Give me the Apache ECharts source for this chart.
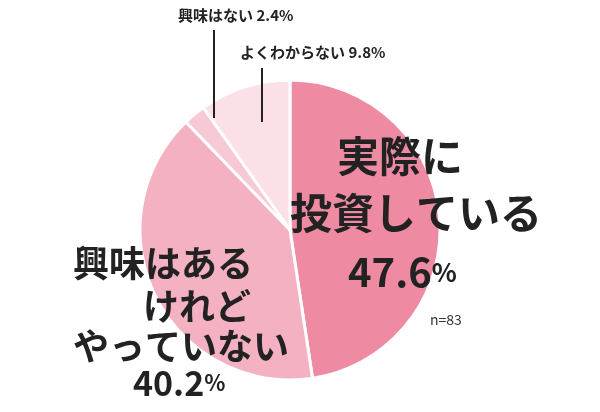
<!DOCTYPE html>
<html>
<head>
<meta charset="utf-8">
<script src="https://cdn.jsdelivr.net/npm/echarts@6/dist/echarts.min.js"></script>
<style>html,body{margin:0;background:#fff}#chart{width:600px;height:412px}</style>
</head>
<body>
<div id="chart"></div>
<script>
const names = ['実際に投資している', '興味はあるけれどやっていない', '興味はない', 'よくわからない'];
const values = [47.6, 40.2, 2.4, 9.8];
const colors = ['#ee8aa2', '#f3b1c1', '#f7c9d4', '#fbe1e7'];
const sampleLabel = 'n=83';

let chart = echarts.init(document.getElementById('chart'));
const font = '"Noto Sans CJK JP", sans-serif';
const big = (x, y, text, size) => ({
	type: 'text', left: x, top: y, z: 100,
	style: { text: text, font: 'bold ' + size + 'px ' + font, fill: '#222' }
});
const pct = (x, y, v, size) => ({
	type: 'text', left: x, top: y, z: 100,
	style: {
		text: '{n|' + v + '}{p|%}',
		rich: {
			n: { font: 'bold ' + size + 'px ' + font, fill: '#222' },
			p: { font: 'bold ' + Math.round(size * 0.65) + 'px ' + font, fill: '#222' }
		}
	}
});
chart.setOption({
	animation: false,
	series: [{
		type: 'pie',
		center: [290, 230],
		radius: [0, 150],
		startAngle: 90,
		clockwise: true,
		label: { show: false },
		itemStyle: { borderColor: '#fff', borderWidth: 3 },
		data: names.map((n, i) => ({ name: n, value: values[i], itemStyle: { color: colors[i] } }))
	}],
	graphic: [
		big(337, 135, '実際に', 42),
		big(290, 192, '投資している', 42),
		pct(348, 252, values[0], 40),
		{ type: 'text', left: 430, top: 313, z: 100, style: { text: sampleLabel, font: '14px ' + font, fill: '#333' } },
		big(73, 245, '興味はある', 36),
		big(143, 288, 'けれど', 36),
		big(73, 328, 'やっていない', 36),
		pct(133, 366, values[1], 34),
		{ type: 'text', left: 178, top: 8, z: 100, style: { text: names[2] + ' ' + values[2] + '%', font: 'bold 15px ' + font, fill: '#222' } },
		{ type: 'text', left: 240, top: 45, z: 100, style: { text: names[3] + ' ' + values[3] + '%', font: 'bold 15px ' + font, fill: '#222' } },
		{ type: 'line', z: 100, shape: { x1: 214, y1: 30, x2: 214, y2: 118 }, style: { stroke: '#222', lineWidth: 2 } },
		{ type: 'line', z: 100, shape: { x1: 262, y1: 68, x2: 262, y2: 122 }, style: { stroke: '#222', lineWidth: 2 } }
	]
});
</script>
</body>
</html>
